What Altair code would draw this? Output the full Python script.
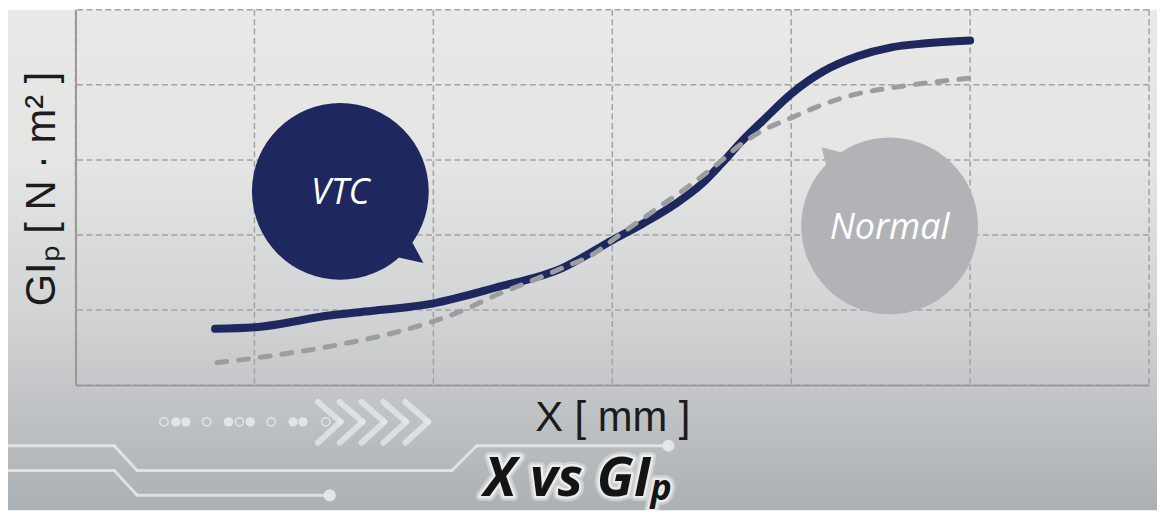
import altair as alt
import pandas as pd

# ---------------- data ----------------
x_vtc = [0.78, 1.0, 1.43, 1.62, 2.0, 2.35, 2.72, 3.0, 3.17, 3.35, 3.5, 3.61, 3.72, 3.84, 4.0, 4.18, 4.37, 4.56, 4.74, 5.0]
y_vtc = [0.75, 0.77, 0.93, 0.98, 1.09, 1.30, 1.56, 1.93, 2.15, 2.41, 2.68, 2.95, 3.24, 3.52, 3.88, 4.18, 4.38, 4.50, 4.55, 4.59]

x_normal = [0.79, 1.0, 1.43, 1.8, 2.0, 2.17, 2.35, 2.54, 2.72, 2.91, 3.0, 3.26, 3.45, 3.59, 3.72, 3.84, 4.0, 4.18, 4.37, 4.56, 4.74, 5.0]
y_normal = [0.30, 0.36, 0.52, 0.71, 0.85, 1.0, 1.20, 1.38, 1.56, 1.77, 1.93, 2.37, 2.69, 2.95, 3.21, 3.39, 3.56, 3.74, 3.88, 3.96, 4.02, 4.09]

x_grid = [0, 1, 2, 3, 4, 5, 6]
y_grid = [0, 1, 2, 3, 4, 5]

series = ["VTC", "Normal"]
callout_x = [1.48, 4.55]
callout_y = [2.58, 2.12]

# ---------------- layout / style ----------------
W, H = 1081, 378
PAD = {"left": 68, "top": 0, "right": 8, "bottom": 126}
NAVY = "#1e275e"
GRAY_BUBBLE = "#b2b3b6"
GRAY_LINE = "#9d9d9d"
DECO = "#e6e9ec"

xs = alt.Scale(domain=[0, 6], nice=False, zero=False)
ys = alt.Scale(domain=[0, 5], nice=False, zero=False)

AX_X = alt.Axis(
    title="X [ mm ]", grid=False, labels=False, ticks=False, domain=True, domainColor="#999999", domainWidth=2,
    titleFont="Liberation Sans", titleFontSize=42, titleFontWeight="normal", titleColor="#1c1c1c",
    titleBaseline="alphabetic", titleY=46, zindex=1)
AX_Y = alt.Axis(
    title="GIₚ [ N · m² ]", grid=False, labels=False, ticks=False, domain=True, domainColor="#999999", domainWidth=2,
    titleFont="Liberation Sans", titleFontSize=42, titleFontWeight="normal", titleColor="#1c1c1c",
    titleAngle=270, titleBaseline="alphabetic", titleAlign="center", titleX=-21, titleY=180, zindex=1)


def X(field):
    return alt.X(field, type="quantitative", scale=xs, axis=AX_X)


def Y(field):
    return alt.Y(field, type="quantitative", scale=ys, axis=AX_Y)


one = pd.DataFrame({"a": [0]})

# background metallic gradient
bg = alt.Chart(one).mark_rect(
    color=alt.LinearGradient(
        gradient="linear", x1=0, y1=0, x2=0, y2=1,
        stops=[
            alt.GradientStop(color="#e9e9e7", offset=0),
            alt.GradientStop(color="#e4e5e4", offset=0.3),
            alt.GradientStop(color="#d2d4d5", offset=0.6),
            alt.GradientStop(color="#c0c3c5", offset=0.8),
            alt.GradientStop(color="#abb0b4", offset=1),
        ],
    )
).encode(x=alt.value(-PAD["left"]), x2=alt.value(W + PAD["right"]),
         y=alt.value(0), y2=alt.value(H + PAD["bottom"]))

# grid lines (drawn from the tick arrays through the scales)
grid_style = dict(color="#a2a2a2", strokeWidth=1.5, strokeDash=[6, 3.5])
vgrid = alt.Chart(pd.DataFrame({"v": x_grid})).mark_rule(**grid_style).encode(x=X("v"))
hgrid = alt.Chart(pd.DataFrame({"v": y_grid})).mark_rule(**grid_style).encode(y=Y("v"))

# decorations (circuit lines, dots, chevrons)
deco_layers = []
segs = [
    (-76, 439, 39, 439), (39, 439, 62, 464), (62, 464, 379, 464), (379, 464, 404, 439), (404, 439, 597, 439),
    (-76, 464, 39, 464), (39, 464, 62, 489), (62, 489, 256, 489),
]
for a, b, c, d in segs:
    deco_layers.append(alt.Chart(one).mark_rule(color=DECO, strokeWidth=3, opacity=0.85, strokeCap="round").encode(
        x=alt.value(a), y=alt.value(b), x2=alt.value(c), y2=alt.value(d)))
for cx in [244, 266, 288, 310, 332]:
    deco_layers.append(alt.Chart(one).mark_rule(color=DECO, strokeWidth=6, opacity=0.75, strokeCap="round").encode(
        x=alt.value(cx), y=alt.value(395), x2=alt.value(cx + 23), y2=alt.value(415)))
    deco_layers.append(alt.Chart(one).mark_rule(color=DECO, strokeWidth=6, opacity=0.75, strokeCap="round").encode(
        x=alt.value(cx + 23), y=alt.value(415), x2=alt.value(cx), y2=alt.value(436)))
for px, py in [(597, 439), (256, 489)]:
    deco_layers.append(alt.Chart(one).mark_point(shape="circle", filled=True, color=DECO, size=150, opacity=0.9).encode(
        x=alt.value(px), y=alt.value(py)))
dots = [(89, 0), (101, 1), (111, 1), (132, 0), (154, 1), (165, 0), (176, 1), (197, 0), (219, 1), (229, 1), (252, 0)]
for px, f in dots:
    if f:
        deco_layers.append(alt.Chart(one).mark_point(shape="circle", filled=True, color=DECO, size=90, opacity=0.9).encode(
            x=alt.value(px), y=alt.value(415)))
    else:
        deco_layers.append(alt.Chart(one).mark_point(shape="circle", filled=False, color=DECO, size=70, strokeWidth=1.5, opacity=0.9).encode(
            x=alt.value(px), y=alt.value(415)))

# callout bubbles
df_call = pd.DataFrame({"label": series, "x": callout_x, "y": callout_y})
col = alt.Color("label:N", scale=alt.Scale(domain=series, range=[NAVY, GRAY_BUBBLE]), legend=None)
bubbles = alt.Chart(df_call).mark_point(shape="circle", filled=True, opacity=1, size=31684, strokeWidth=0).encode(
    x=X("x"), y=Y("y"), color=col)
tails = alt.Chart(df_call).mark_point(filled=True, opacity=1, size=31684, strokeWidth=0).encode(
    x=X("x"), y=Y("y"), color=col,
    shape=alt.Shape("label:N", scale=alt.Scale(domain=series, range=[
        "M 0.80 0.55 L 0.94 0.81 L 0.62 0.74 Z",
        "M -0.71 -0.66 L -0.77 -0.89 L -0.50 -0.82 Z"]), legend=None))
call_text = alt.Chart(df_call).mark_text(font="Open Sans", fontStyle="italic", fontSize=36, color="white",
                                         baseline="middle", align="center", dy=2).encode(
    x=X("x"), y=Y("y"), text="label:N")

# curves
df_vtc = pd.DataFrame({"x": x_vtc, "y": y_vtc})
df_norm = pd.DataFrame({"x": x_normal, "y": y_normal})
vtc = alt.Chart(df_vtc).mark_line(color=NAVY, strokeWidth=8, strokeCap="round", interpolate="monotone").encode(
    x=X("x"), y=Y("y"))
normal = alt.Chart(df_norm).mark_line(color=GRAY_LINE, strokeWidth=5, strokeDash=[10, 12], strokeCap="round",
                                      interpolate="monotone").encode(x=X("x"), y=Y("y"))

# bottom title "X vs GIp" with glow
TITLE_MAIN = dict(text="X vs GI", font="Open Sans", fontWeight="bold", fontStyle="italic", fontSize=54,
                  align="left", baseline="alphabetic")
TITLE_SUB = dict(text="p", font="Open Sans", fontWeight="bold", fontStyle="italic", fontSize=36,
                 align="left", baseline="alphabetic")
MX, MY, SX, SY = 411, 490, 579, 494
title_layers = []
for sw, op in [(10, 0.35), (5, 0.6)]:
    glow = dict(fill="white", stroke="white", strokeWidth=sw, strokeJoin="round", opacity=op)
    title_layers.append(alt.Chart(one).mark_text(**TITLE_MAIN, **glow).encode(x=alt.value(MX), y=alt.value(MY)))
    title_layers.append(alt.Chart(one).mark_text(**TITLE_SUB, **glow).encode(x=alt.value(SX), y=alt.value(SY)))
title_layers.append(alt.Chart(one).mark_text(**TITLE_MAIN, color="#141414").encode(x=alt.value(MX), y=alt.value(MY)))
title_layers.append(alt.Chart(one).mark_text(**TITLE_SUB, color="#141414").encode(x=alt.value(SX), y=alt.value(SY)))

chart = alt.layer(
    bg, *deco_layers, vgrid, hgrid, bubbles, tails, call_text, vtc, normal, *title_layers
).properties(
    width=W, height=H, padding=PAD, autosize=alt.AutoSizeParams(type="none")
).configure_view(strokeWidth=0)

chart.save("out.html", embed_options={"renderer": "svg", "actions": False})
